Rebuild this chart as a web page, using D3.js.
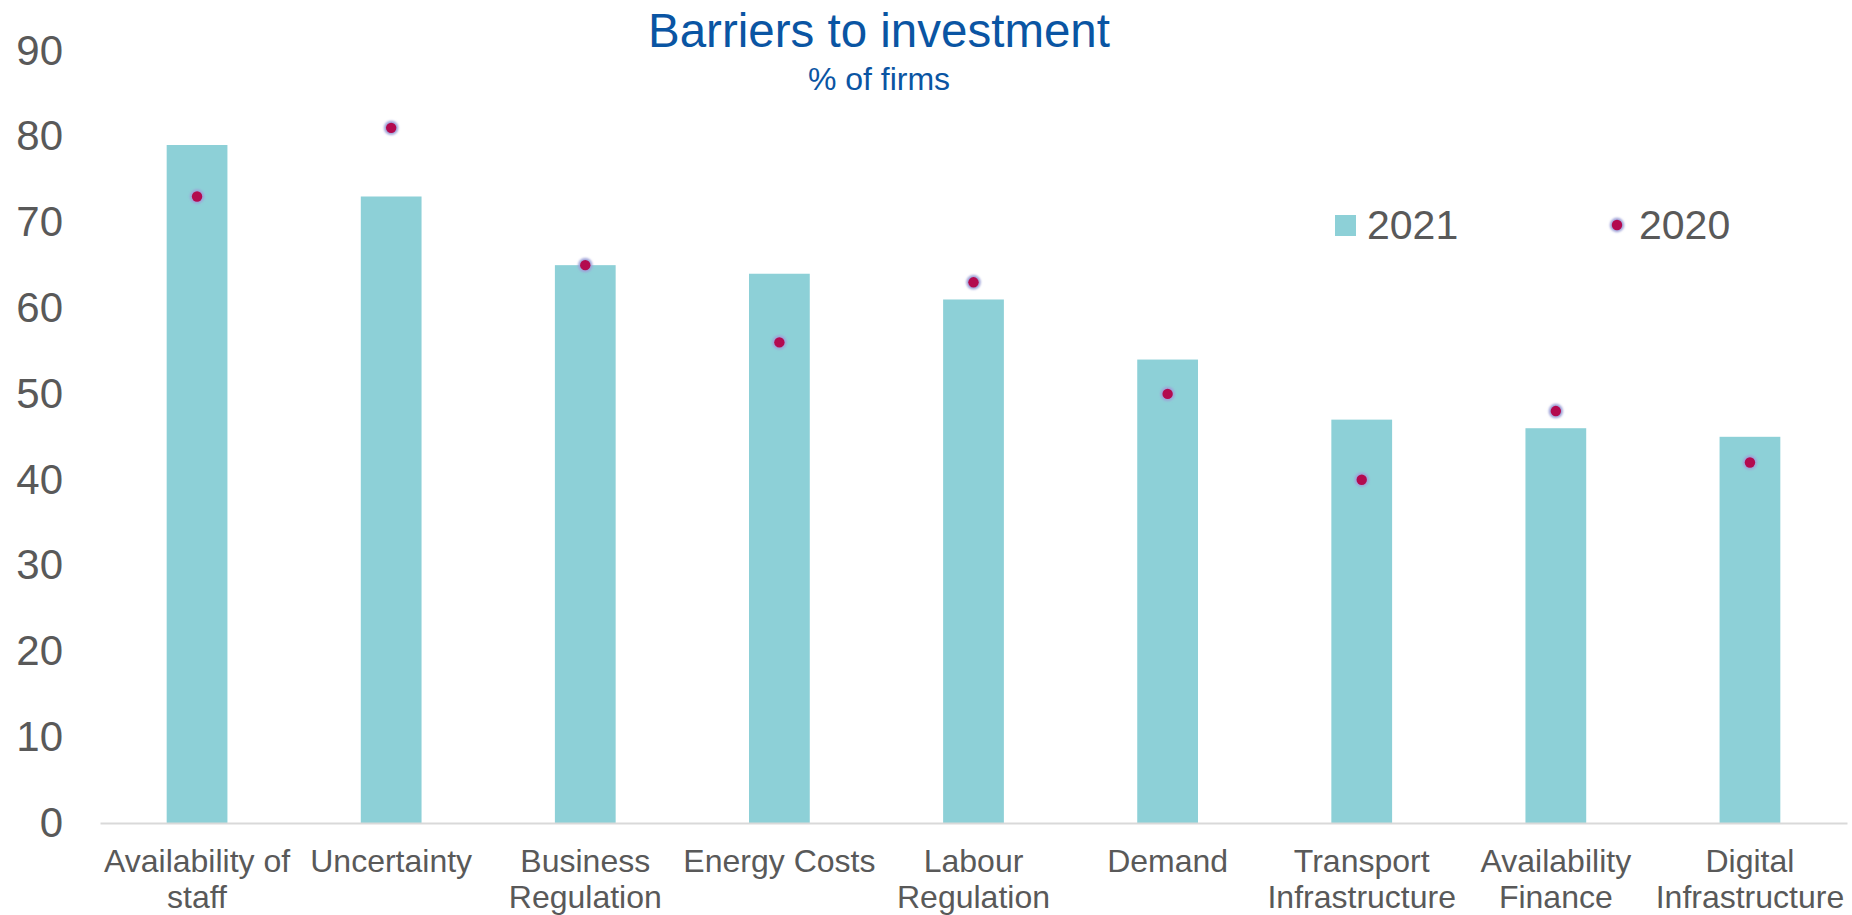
<!DOCTYPE html>
<html>
<head>
<meta charset="utf-8">
<script src="https://cdn.jsdelivr.net/npm/d3@7"></script>
<style>
  html, body { margin: 0; padding: 0; background: #ffffff; }
  svg { display: block; font-family: "Liberation Sans", Arial, sans-serif; }
</style>
</head>
<body>
<svg id="chart" width="1852" height="915"></svg>
<script>
// Barriers to investment: share of firms citing each barrier
const categories = [
  "Availability of\nstaff",
  "Uncertainty",
  "Business\nRegulation",
  "Energy Costs",
  "Labour\nRegulation",
  "Demand",
  "Transport\nInfrastructure",
  "Availability\nFinance",
  "Digital\nInfrastructure"
];
const values2021 = [79, 73, 65, 64, 61, 54, 47, 46, 45];
const values2020 = [73, 81, 65, 56, 63, 50, 40, 48, 42];
const yTicks = [0, 10, 20, 30, 40, 50, 60, 70, 80, 90];
const seriesNames = ["2021", "2020"];

const svg = d3.select("#chart");
const barColor = "#8DD0D7";
const dotColor = "#B30A4F";
const haloColor = "#9FA2D8";
const textColor = "#595959";

const x = d3.scaleBand()
  .domain(categories)
  .range([100, 1847])
  .paddingInner(0.687)
  .paddingOuter(0.3435);

const y = d3.scaleLinear()
  .domain([0, 90])
  .range([823, 50.6]);

// soft halo for the 2020 markers
const defs = svg.append("defs");
defs.append("filter").attr("id", "halo")
  .attr("x", "-50%").attr("y", "-50%").attr("width", "200%").attr("height", "200%")
  .append("feGaussianBlur").attr("stdDeviation", 0.9);

// Title
svg.append("text")
  .attr("x", 879).attr("y", 47)
  .attr("text-anchor", "middle")
  .attr("fill", "#0A55A3")
  .style("font-size", "47.5px")
  .text("Barriers to investment");
svg.append("text")
  .attr("x", 879).attr("y", 90)
  .attr("text-anchor", "middle")
  .attr("fill", "#0A55A3")
  .style("font-size", "32px")
  .text("% of firms");

// Y axis (labels only)
const yAxis = svg.append("g")
  .attr("transform", "translate(100,0)")
  .call(d3.axisLeft(y).tickValues(yTicks).tickSize(0).tickPadding(37));
yAxis.select(".domain").remove();
yAxis.selectAll("text")
  .attr("fill", textColor)
  .style("font-size", "42px")
  .style("font-family", "'Liberation Sans', Arial, sans-serif");

// Bars (2021)
svg.append("g").selectAll("rect")
  .data(categories)
  .join("rect")
  .attr("x", d => x(d))
  .attr("width", x.bandwidth())
  .attr("y", (d, i) => y(values2021[i]))
  .attr("height", (d, i) => y(0) - y(values2021[i]))
  .attr("fill", barColor);

// X axis
const xAxis = svg.append("g")
  .attr("transform", `translate(0,${y(0)})`)
  .call(d3.axisBottom(x).tickSize(0).tickSizeOuter(0));
xAxis.select(".domain")
  .attr("stroke", "#D9D9D9")
  .attr("stroke-width", 2.2);
xAxis.selectAll(".tick text").each(function(d) {
  const t = d3.select(this);
  t.text(null).attr("y", 0).attr("dy", null)
    .attr("fill", textColor)
    .style("font-size", "32px")
    .style("font-family", "'Liberation Sans', Arial, sans-serif");
  d.split("\n").forEach((line, k) => {
    t.append("tspan").attr("x", 0).attr("y", 49 + k * 36).text(line);
  });
});

// Markers (2020)
function marker(sel) {
  sel.append("circle").attr("r", 7.2)
    .attr("fill", haloColor).attr("filter", "url(#halo)");
  sel.append("circle").attr("r", 5.2)
    .attr("fill", dotColor);
}
svg.append("g").selectAll("g")
  .data(categories)
  .join("g")
  .attr("transform", (d, i) => `translate(${x(d) + x.bandwidth() / 2},${y(values2020[i])})`)
  .call(marker);

// Legend
const legend = svg.append("g");
legend.append("rect")
  .attr("x", 1335).attr("y", 215).attr("width", 21).attr("height", 21)
  .attr("fill", barColor);
legend.append("text")
  .attr("x", 1367).attr("y", 239)
  .attr("fill", textColor).style("font-size", "41px")
  .text(seriesNames[0]);
legend.append("g")
  .attr("transform", "translate(1617,225)")
  .call(marker);
legend.append("text")
  .attr("x", 1639).attr("y", 239)
  .attr("fill", textColor).style("font-size", "41px")
  .text(seriesNames[1]);
</script>
</body>
</html>
